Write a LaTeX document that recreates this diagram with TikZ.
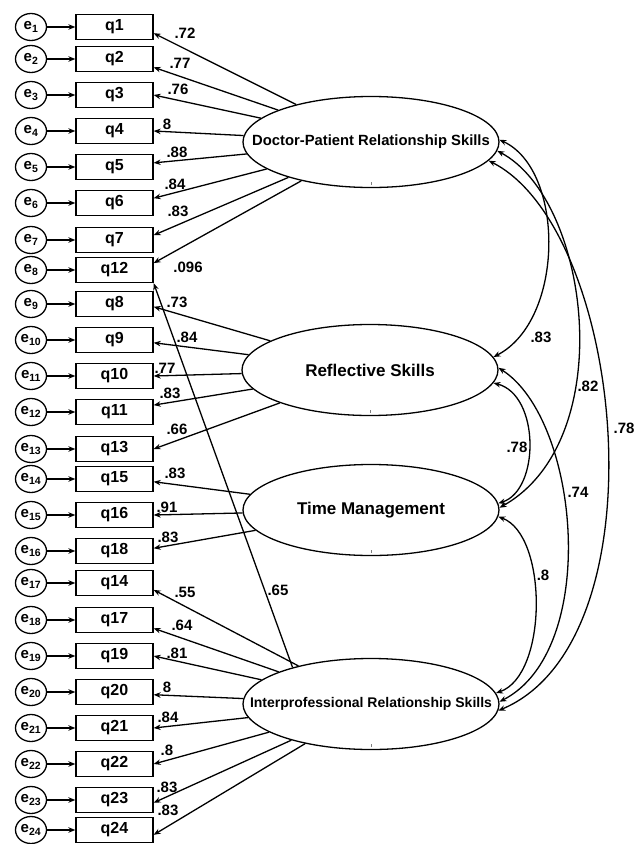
\documentclass[tikz,border=0pt]{standalone}
\usepackage{fontspec}
\setmainfont{Liberation Sans}
\usetikzlibrary{arrows.meta,shapes.geometric}
\begin{document}
\begin{tikzpicture}[x=1pt,y=-1pt,
  obs/.style={draw, line width=1.3pt, minimum width=77pt, minimum height=25pt, inner sep=0pt, font=\fontsize{16}{16}\selectfont\bfseries},
  err/.style={draw, ellipse, line width=1.3pt, minimum width=31pt, minimum height=27pt, inner sep=0pt, font=\fontsize{15}{15}\selectfont\bfseries},
  lat/.style={draw, ellipse, line width=1.3pt, minimum width=256pt, minimum height=91pt, inner sep=0pt},
  ld/.style={font=\fontsize{15}{15}\selectfont\bfseries, inner sep=0pt},
  arr/.style={line width=1.3pt, -{Stealth[length=7pt,width=5.5pt]}},
  cov/.style={line width=1.3pt, {Stealth[length=7pt,width=5.5pt]}-{Stealth[length=7pt,width=5.5pt]}},
  tickm/.style={line width=0.5pt, draw=gray},
]
\useasboundingbox (0,0) rectangle (637,844);

% observed variables and errors
\foreach \q/\e/\y in {q1/1/27, q2/2/59, q3/3/95, q4/4/131, q5/5/167, q6/6/203, q7/7/240, q12/8/270,
  q8/9/304, q9/10/340, q10/11/376, q11/12/412, q13/13/449, q15/14/479, q16/15/515, q18/16/551,
  q14/17/583, q17/18/620, q19/19/656, q20/20/692, q21/21/728, q22/22/764, q23/23/800, q24/24/830}{
  \node[obs] (\q) at (114.5,\y) {\q};
  \node[err] (e\e) at (31,\y) {e\textsubscript{\e}};
  \draw[arr] (e\e) -- (\q);
}

% latent variables
\node[lat] (DP) at (371,142) {\makebox[0pt]{\fontsize{14.8}{15}\selectfont\bfseries Doctor-Patient Relationship Skills}};
\node[lat] (RS) at (370,370) {\makebox[0pt]{\fontsize{17}{17}\selectfont\bfseries Reflective Skills}};
\node[lat] (TM) at (371,510) {\makebox[0pt]{\fontsize{17}{17}\selectfont\bfseries Time Management}};
\node[lat] (IP) at (371,704) {\makebox[0pt]{\fontsize{14}{14}\selectfont\bfseries Interprofessional Relationship Skills}};

\foreach \n in {DP,RS,TM,IP}{\draw[tickm] (\n.south) ++(0,-3) -- ++(0,-3);}

% loadings DP
\draw[arr] (DP) -- (q1.-9);
\draw[arr] (DP) -- (q2.-12);
\draw[arr] (DP) -- (q3.east);
\draw[arr] (DP) -- (q4.east);
\draw[arr] (DP) -- (q5.6);
\draw[arr] (DP) -- (q6.7);
\draw[arr] (DP) -- (q7.7);
\draw[arr] (DP) -- (q12.10);
% loadings RS
\draw[arr] (RS) -- (q8.-4);
\draw[arr] (RS) -- (q9.-4);
\draw[arr] (RS) -- (q10.east);
\draw[arr] (RS) -- (q11.10);
\draw[arr] (RS) -- (q13.east);
% loadings TM
\draw[arr] (TM) -- (q15.-4);
\draw[arr] (TM) -- (q16.east);
\draw[arr] (TM) -- (q18.4);
% loadings IP
\draw[arr] (IP.155) -- (q12.south east);
\draw[arr] (IP) -- (q14.-10);
\draw[arr] (IP) -- (q17.-12);
\draw[arr] (IP) -- (q19.east);
\draw[arr] (IP) -- (q20.-4);
\draw[arr] (IP) -- (q21.east);
\draw[arr] (IP) -- (q22.east);
\draw[arr] (IP) -- (q23.-4);
\draw[arr] (IP) -- (q24.-7);

% loading labels
\node[ld] (l1) at (185,33) {.72};
\node[ld] (l2) at (180,63) {.77};
\node[ld] (l3) at (178,89) {.76};
\node[ld] (l4) at (167,124) {8};
\node[ld] (l5) at (177,152) {.88};
\node[ld] (l6) at (175,184) {.84};
\node[ld] (l7) at (178,211) {.83};
\node[ld] (l8) at (188,267) {.096};
\node[ld] (l9) at (177,302) {.73};
\node[ld] (l10) at (187,337) {.84};
\node[ld] (l11) at (165,368) {.77};
\node[ld] (l12) at (170,393) {.83};
\node[ld] (l13) at (177,429) {.66};
\node[ld] (l14) at (175,473) {.83};
\node[ld] (l15) at (167,507) {.91};
\node[ld] (l16) at (168,537) {.83};
\node[ld] (l17) at (185,592) {.55};
\node[ld] (l18) at (182,625) {.64};
\node[ld] (l19) at (177,653) {.81};
\node[ld] (l20) at (167,687) {8};
\node[ld] (l21) at (168,717) {.84};
\node[ld] (l22) at (167,750) {.8};
\node[ld] (l23) at (167,787) {.83};
\node[ld] (l24) at (168,810) {.83};
\node[ld] (l25) at (278,590) {.65};

% covariances
\draw[cov] (DP.1) .. controls (565,170) and (565,320) .. (RS.6);
\draw[cov] (DP.-4.5) .. controls (590,200) and (620,440) .. (TM.1);
\draw[cov] (DP.-9) .. controls (625,230) and (665,640) .. (IP.-3.5);
\draw[cov] (RS.-6) .. controls (540,395) and (540,490) .. (TM.3.5);
\draw[cov] (RS.1) .. controls (580,420) and (600,650) .. (IP.1);
\draw[cov] (TM.-3) .. controls (548,535) and (548,675) .. (IP.5.5);

\node[ld] (c1) at (541,337) {.83};
\node[ld] (c2) at (588,386) {.82};
\node[ld] (c3) at (624,428) {.78};
\node[ld] (c4) at (517,447) {.78};
\node[ld] (c5) at (578,492) {.74};
\node[ld] (c6) at (543,575) {.8};
\end{tikzpicture}
\end{document}
